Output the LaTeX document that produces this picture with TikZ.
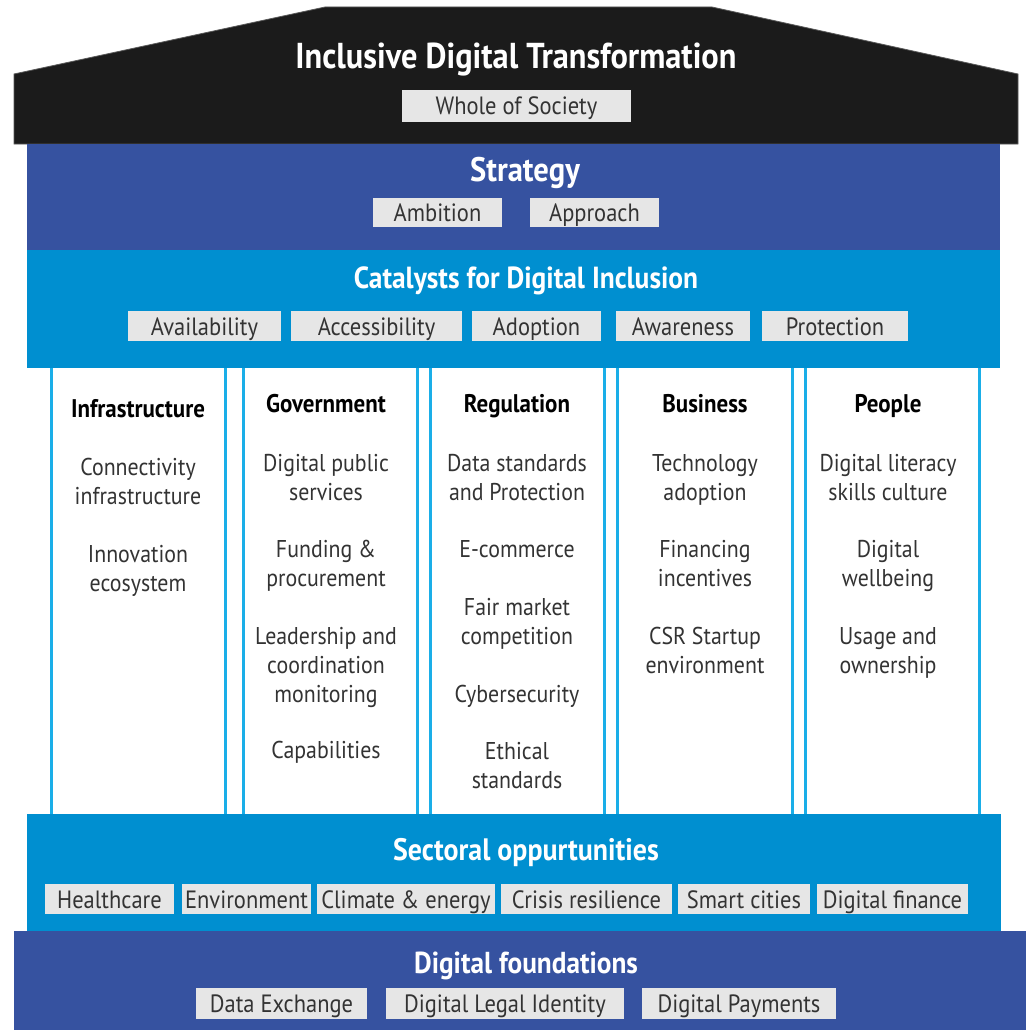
\documentclass[tikz,border=0pt]{standalone}
\usepackage{fontspec}
\setmainfont{PT Sans}[FakeStretch=0.9]
\definecolor{roofc}{HTML}{1B1B1B}
\definecolor{dblue}{HTML}{3652A0}
\definecolor{lblue}{HTML}{008FD0}
\definecolor{pline}{HTML}{1AAEE8}
\definecolor{tagc}{HTML}{E6E6E6}
\definecolor{tagtext}{HTML}{333333}
\tikzset{
  bandtitle/.style={text=white, font=\bfseries\fontsize{34}{38}\selectfont, anchor=base, inner sep=0pt},
  tagbox/.style={fill=tagc, text=tagtext, font=\fontsize{25}{28}\selectfont, inner sep=0pt, text height=22pt, text depth=4pt},
  pillar/.style={draw=pline, line width=3pt, fill=white},
  phead/.style={text=black, font=\bfseries\fontsize{25.5}{28}\selectfont, anchor=base, inner sep=0pt},
  item/.style={text=tagtext, font=\fontsize{24.3}{27}\selectfont, anchor=base, inner sep=0pt},
}
\newcommand\mytag[6]{\node[tagbox, minimum width={(#3-#2)*1pt}, minimum height={(#5-#4)*1pt}] (#1) at ({(#2+#3)/2},{(#4+#5)/2}) {#6};}
\newcommand\myline[4]{\node[item] (#1) at (#2,#3) {#4};}
\begin{document}
\begin{tikzpicture}[x=1pt,y=-1pt]
\useasboundingbox (0,0) rectangle (1026,1030);
% pillars (behind bands)
\path[pillar] (51,360) rectangle (225,816);
\path[pillar] (243,360) rectangle (417,816);
\path[pillar] (430,360) rectangle (604,816);
\path[pillar] (617,360) rectangle (792,816);
\path[pillar] (805,360) rectangle (979,816);
% roof
\path[fill=roofc, draw=black!65, line width=0.8pt] (14,144) -- (14,74) -- (325,7) -- (712,7) -- (1018,74) -- (1018,144) -- cycle;
% bands
\fill[dblue] (27,144) rectangle (1000,250);
\fill[lblue] (27,250) rectangle (1000,368);
\fill[lblue] (27,814) rectangle (1001,931);
\fill[dblue] (14,931) rectangle (1026,1030);
% titles
\node[bandtitle, font=\bfseries\fontsize{36}{40}\selectfont] (t0) at (516,69) {Inclusive Digital Transformation};
\node[bandtitle] (t1) at (525,181) {Strategy};
\node[bandtitle, font=\bfseries\fontsize{30.5}{34}\selectfont] (t2) at (526,288) {Catalysts for Digital Inclusion};
\node[bandtitle, font=\bfseries\fontsize{31}{34}\selectfont] (t3) at (526,860) {Sectoral oppurtunities};
\node[bandtitle, font=\bfseries\fontsize{30.3}{34}\selectfont] (t4) at (526,973) {Digital foundations};
% tags
\mytag{wos}{402}{631}{90}{122}{Whole of Society}
\mytag{amb}{373}{502}{198}{227}{Ambition}
\mytag{app}{530}{659}{198}{227}{Approach}
\mytag{avail}{128}{281}{311}{341}{Availability}
\mytag{access}{291}{462}{311}{341}{Accessibility}
\mytag{adopt}{472}{601}{311}{341}{Adoption}
\mytag{aware}{616}{750}{311}{341}{Awareness}
\mytag{prot}{762}{908}{311}{341}{Protection}
\mytag{health}{45}{174}{884}{914}{Healthcare}
\mytag{env}{182}{311}{884}{914}{Environment}
\mytag{clim}{317}{495}{884}{914}{Climate \& energy}
\mytag{crisis}{501}{672}{884}{914}{Crisis resilience}
\mytag{smart}{678}{810}{884}{914}{Smart cities}
\mytag{dfin}{817}{968}{884}{914}{Digital finance}
\mytag{dex}{196}{367}{988}{1019}{Data Exchange}
\mytag{dli}{386}{624}{988}{1019}{Digital Legal Identity}
\mytag{dpay}{642}{836}{988}{1019}{Digital Payments}
% pillar 1
\node[phead] (h1) at (138,417) {Infrastructure};
\myline{a1}{138}{475}{Connectivity}
\myline{a2}{138}{504}{infrastructure}
\myline{a3}{138}{562}{Innovation}
\myline{a4}{138}{591}{ecosystem}
% pillar 2
\node[phead] (h2) at (326,412) {Government};
\myline{b1}{326}{471}{Digital public}
\myline{b2}{326}{500}{services}
\myline{b3}{326}{557}{Funding \&}
\myline{b4}{326}{586}{procurement}
\myline{b5}{326}{644}{Leadership and}
\myline{b6}{326}{673}{coordination}
\myline{b7}{326}{702}{monitoring}
\myline{b8}{326}{758}{Capabilities}
% pillar 3
\node[phead] (h3) at (517,412) {Regulation};
\myline{c1}{517}{471}{Data standards}
\myline{c2}{517}{500}{and Protection}
\myline{c3}{517}{557}{E-commerce}
\myline{c4}{517}{615}{Fair market}
\myline{c5}{517}{644}{competition}
\myline{c6}{517}{702}{Cybersecurity}
\myline{c7}{517}{759}{Ethical}
\myline{c8}{517}{788}{standards}
% pillar 4
\node[phead] (h4) at (705,412) {Business};
\myline{d1}{705}{471}{Technology}
\myline{d2}{705}{500}{adoption}
\myline{d3}{705}{557}{Financing}
\myline{d4}{705}{586}{incentives}
\myline{d5}{705}{644}{CSR Startup}
\myline{d6}{705}{673}{environment}
% pillar 5
\node[phead] (h5) at (888,412) {People};
\myline{e1}{888}{471}{Digital literacy}
\myline{e2}{888}{500}{skills culture}
\myline{e3}{888}{557}{Digital}
\myline{e4}{888}{586}{wellbeing}
\myline{e5}{888}{644}{Usage and}
\myline{e6}{888}{673}{ownership}
\end{tikzpicture}
\end{document}
